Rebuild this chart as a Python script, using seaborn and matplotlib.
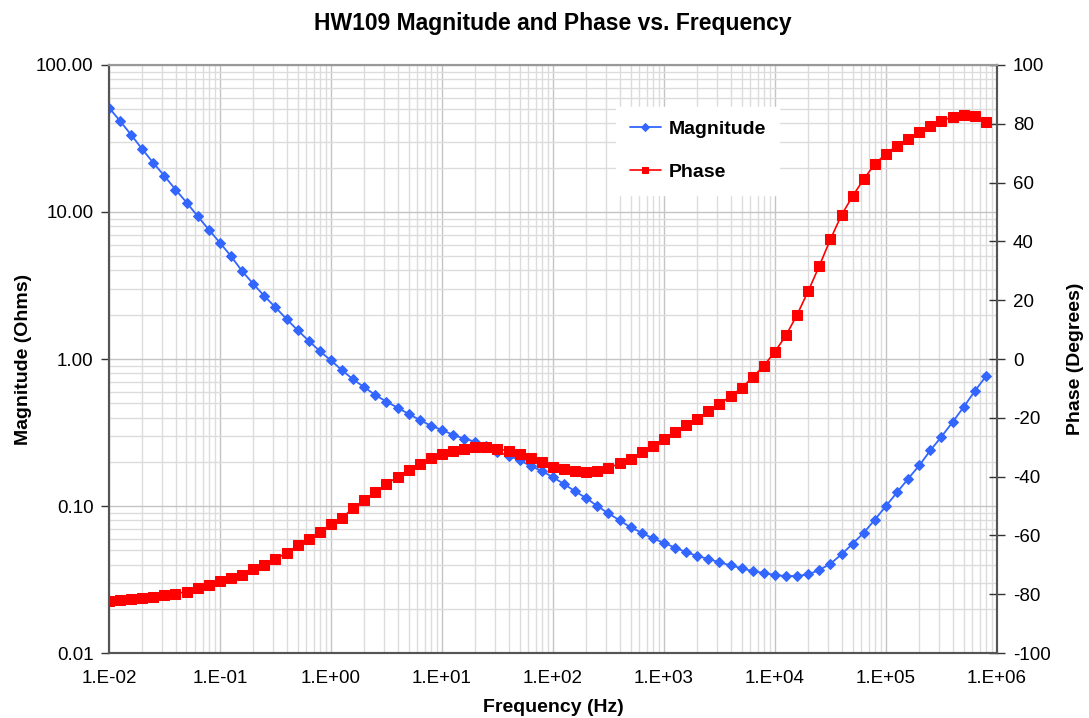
import numpy as np
import pandas as pd
import matplotlib
matplotlib.use("Agg")
import matplotlib.pyplot as plt
import matplotlib.ticker as mticker
import seaborn as sns

# Frequencies (Hz), 10 points per decade
freq = [
    0.01, 0.0126, 0.0158, 0.02, 0.0251, 0.0316, 0.0398, 0.0501, 0.0631, 0.0794,
    0.1, 0.126, 0.158, 0.2, 0.251, 0.316, 0.398, 0.501, 0.631, 0.794,
    1.0, 1.26, 1.58, 2.0, 2.51, 3.16, 3.98, 5.01, 6.31, 7.94,
    10.0, 12.6, 15.8, 20.0, 25.1, 31.6, 39.8, 50.1, 63.1, 79.4,
    100.0, 126.0, 158.0, 200.0, 251.0, 316.0, 398.0, 501.0, 631.0, 794.0,
    1000.0, 1260.0, 1580.0, 2000.0, 2510.0, 3160.0, 3980.0, 5010.0, 6310.0, 7940.0,
    1.0e4, 1.26e4, 1.58e4, 2.0e4, 2.51e4, 3.16e4, 3.98e4, 5.01e4, 6.31e4, 7.94e4,
    1.0e5, 1.26e5, 1.58e5, 2.0e5, 2.51e5, 3.16e5, 3.98e5, 5.01e5, 6.31e5, 7.94e5,
]

# Magnitude (Ohms)
magnitude = [
    51.3, 41.6, 33.6, 26.7, 21.6, 17.6, 14.2, 11.6, 9.35, 7.59,
    6.18, 5.00, 3.97, 3.24, 2.68, 2.25, 1.87, 1.57, 1.33, 1.13,
    0.978, 0.838, 0.728, 0.642, 0.569, 0.513, 0.467, 0.423, 0.385, 0.352,
    0.329, 0.305, 0.287, 0.274, 0.256, 0.234, 0.220, 0.205, 0.187, 0.173,
    0.157, 0.141, 0.126, 0.113, 0.100, 0.089, 0.080, 0.0716, 0.0658, 0.0602,
    0.0562, 0.0520, 0.0486, 0.0457, 0.0436, 0.0414, 0.0395, 0.0377, 0.0361, 0.0350,
    0.0339, 0.0334, 0.0334, 0.0343, 0.0367, 0.0405, 0.0469, 0.0554, 0.0658, 0.0807,
    0.100, 0.124, 0.153, 0.189, 0.239, 0.296, 0.372, 0.471, 0.605, 0.762,
]

# Phase (Degrees)
phase = [
    -82.3, -82.0, -81.6, -81.2, -80.8, -80.4, -79.9, -79.1, -78.0, -77.0,
    -75.5, -74.5, -73.4, -71.3, -70.2, -67.9, -66.1, -63.4, -61.3, -58.9,
    -56.2, -54.1, -50.7, -48.1, -45.3, -42.6, -40.1, -37.6, -35.6, -33.8,
    -32.3, -31.3, -30.5, -30.0, -29.9, -30.6, -31.2, -32.3, -33.7, -35.1,
    -36.6, -37.5, -38.1, -38.5, -38.0, -37.1, -35.5, -33.9, -31.7, -29.6,
    -27.2, -24.8, -22.6, -20.3, -17.7, -15.3, -12.7, -9.8, -6.2, -2.3,
    2.5, 8.1, 15.0, 23.2, 31.7, 40.7, 49.0, 55.4, 61.2, 66.3,
    69.8, 72.6, 74.8, 77.1, 79.4, 81.1, 82.3, 83.0, 82.7, 80.5,
]

mag_ticks = [0.01, 0.1, 1, 10, 100]
phase_ticks = [-100, -80, -60, -40, -20, 0, 20, 40, 60, 80, 100]

data = pd.DataFrame({"freq": freq, "magnitude": magnitude, "phase": phase})

sns.set_style("white")
plt.rcParams["font.family"] = ["Liberation Sans", "DejaVu Sans"]
plt.rcParams["axes.unicode_minus"] = False
plt.rcParams["text.color"] = "black"
plt.rcParams["axes.labelcolor"] = "black"
plt.rcParams["xtick.color"] = "black"
plt.rcParams["ytick.color"] = "black"

fig = plt.figure(figsize=(10.89, 7.18), dpi=100)
ax = fig.add_axes([0.100, 0.0905, 0.8155, 0.819])
ax2 = ax.twinx()

blue = "#3366ff"
red = "#ff0000"

sns.lineplot(data=data, x="freq", y="magnitude", ax=ax, color=blue, marker="D",
             markersize=5.5, markeredgecolor=blue, linewidth=1.3, legend=False)
sns.lineplot(data=data, x="freq", y="phase", ax=ax2, color=red, marker="s",
             markersize=6.5, markeredgecolor=red, linewidth=1.2, legend=False)

ax.set_xscale("log")
ax.set_yscale("log")
ax.set_xlim(1e-2, 1e6)
ax.set_ylim(0.01, 100)
ax2.set_ylim(-100, 100)

ax.set_xticks([10.0 ** e for e in range(-2, 7)])
ax.xaxis.set_major_formatter(mticker.FuncFormatter(
    lambda v, p: "1.E{:+03d}".format(int(round(np.log10(v))))))
ax.xaxis.set_minor_locator(mticker.LogLocator(base=10, subs=np.arange(2, 10), numticks=20))
ax.xaxis.set_minor_formatter(mticker.NullFormatter())

ax.set_yticks(mag_ticks)
ax.yaxis.set_major_formatter(mticker.FuncFormatter(lambda v, p: "{:.2f}".format(v)))
ax.yaxis.set_minor_locator(mticker.LogLocator(base=10, subs=np.arange(2, 10), numticks=20))
ax.yaxis.set_minor_formatter(mticker.NullFormatter())
ax2.set_yticks(phase_ticks)

# grid on the primary axes only
ax.grid(which="major", color="#c4c4c4", linewidth=1.0)
ax.grid(which="minor", color="#dcdcdc", linewidth=1.0)
ax2.grid(False)

ax.tick_params(axis="both", which="major", labelsize=13.5, length=6, width=1,
               color="#333333", direction="out", pad=5)
ax.tick_params(axis="both", which="minor", length=0)
ax.tick_params(axis="x", pad=6)
ax2.tick_params(axis="y", which="major", labelsize=13.5, length=11, width=1,
                color="#333333", direction="inout", pad=6)

for name, sp in ax.spines.items():
    sp.set_color("#555555")
    sp.set_linewidth(1.5)
ax.spines["top"].set_color("#999999")
for name, sp in ax2.spines.items():
    sp.set_color("#555555")
    sp.set_linewidth(1.5)
ax2.spines["top"].set_color("#999999")

ax.set_title("HW109 Magnitude and Phase vs. Frequency", fontsize=16.5,
             fontweight="bold", pad=25)
ax.set_xlabel("Frequency (Hz)", fontsize=14, fontweight="bold", labelpad=9)
ax.set_ylabel("Magnitude (Ohms)", fontsize=14, fontweight="bold", labelpad=3)
ax2.set_ylabel("Phase (Degrees)", fontsize=14, fontweight="bold", labelpad=12)

handles = [ax.lines[0], ax2.lines[0]]
leg = ax2.legend(handles, ["Magnitude", "Phase"], loc="upper left",
                 bbox_to_anchor=(0.560, 0.945), frameon=True, fancybox=False,
                 framealpha=1, edgecolor="white", facecolor="white",
                 prop={"size": 14, "weight": "bold"}, handlelength=1.6,
                 labelspacing=1.3, borderpad=0.7, handletextpad=0.4)
for line in leg.get_lines():
    line.set_markersize(4.5)

fig.savefig("out.png", dpi=100)
